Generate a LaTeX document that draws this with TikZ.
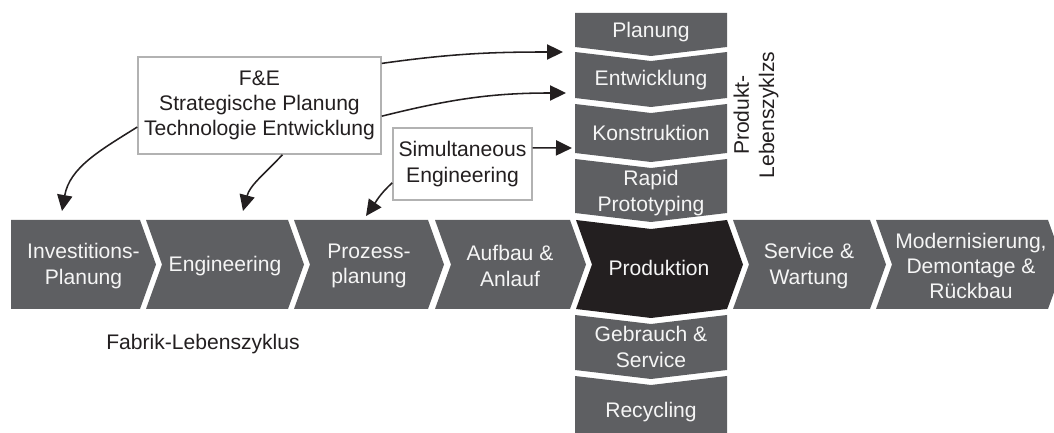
\documentclass[tikz,border=0pt]{standalone}
\usepackage{fontspec}
\setmainfont{Liberation Sans}
\usetikzlibrary{arrows.meta}
\definecolor{chevgray}{RGB}{94,95,98}
\definecolor{prodblack}{RGB}{35,31,32}
\definecolor{framegray}{RGB}{178,178,178}
\definecolor{inkdark}{RGB}{35,31,32}

\begin{document}
\begin{tikzpicture}[x=0.025cm,y=0.025cm,>={Triangle[length=4mm,width=3.8mm]},
  font=\fontsize{15}{18}\selectfont,
  chevtext/.style={text=white!96!black,align=center,inner sep=0pt},
  infobox/.style={draw=framegray,line width=1pt,fill=white,text=inkdark,align=center,inner sep=2pt},
  flow/.style={->,line width=1.1pt,draw=inkdark}]
\useasboundingbox (0,0) rectangle (1054,433);
\begin{scope}
\clip (0,0) rectangle (1054,433);
% Fabrik-Lebenszyklus (horizontal)
\fill[chevgray] (11,213) -- (140,213) -- (156,168.5) -- (140,124) -- (11,124) -- cycle;
\fill[chevgray] (146,213) -- (288,213) -- (304,168.5) -- (288,124) -- (146,124) -- (162,168.5) -- cycle;
\fill[chevgray] (294,213) -- (428,213) -- (444,168.5) -- (428,124) -- (294,124) -- (310,168.5) -- cycle;
\fill[chevgray] (435,213) -- (570,213) -- (586,168.5) -- (570,124) -- (435,124) -- (451,168.5) -- cycle;
\fill[prodblack] (576,213) -- (651,204) -- (727,213) -- (743,168.5) -- (727,124) -- (651,115) -- (576,124) -- (592,168.5) -- cycle;
\fill[chevgray] (733,213) -- (870,213) -- (886,168.5) -- (870,124) -- (733,124) -- (749,168.5) -- cycle;
\fill[chevgray] (876,213) -- (1048,213) -- (1064,168.5) -- (1048,124) -- (876,124) -- (892,168.5) -- cycle;
% Produkt-Lebenszyklus (vertical)
\fill[chevgray] (575,420) -- (727,420) -- (727,386) -- (651,377) -- (575,386) -- cycle;
\fill[chevgray] (575,381) -- (651,372) -- (727,381) -- (727,335) -- (651,326) -- (575,335) -- cycle;
\fill[chevgray] (575,329) -- (651,320) -- (727,329) -- (727,280) -- (651,271) -- (575,280) -- cycle;
\fill[chevgray] (575,274) -- (651,265) -- (727,274) -- (727,220) -- (651,211) -- (575,220) -- cycle;
\fill[chevgray] (575,118) -- (651,109) -- (727,118) -- (727,63) -- (651,54) -- (575,63) -- cycle;
\fill[chevgray] (575,57) -- (651,48) -- (727,57) -- (727,0) -- (575,0) -- cycle;
\end{scope}
\node[chevtext] (invest) at (83.5,167) {Investitions-\\Planung};
\node[chevtext] (engin) at (225,167) {Engineering};
\node[chevtext] (prozess) at (369,167) {Prozess-\\planung};
\node[chevtext] (aufbau) at (510,167) {Aufbau \&\\Anlauf};
\node[chevtext] (prod) at (659,165) {Produktion};
\node[chevtext] (service) at (809,167) {Service \&\\Wartung};
\node[chevtext] (modern) at (971,167) {Modernisierung,\\Demontage \&\\Rückbau};
\node[chevtext] (plan) at (651,401) {Planung};
\node[chevtext] (entw) at (651,353) {Entwicklung};
\node[chevtext] (konstr) at (651,300) {Konstruktion};
\node[chevtext] (rapid) at (651,240) {Rapid\\Prototyping};
\node[chevtext] (gebrauch) at (651,86) {Gebrauch \&\\Service};
\node[chevtext] (recyc) at (651,21) {Recycling};
\node[text=inkdark,align=center,rotate=90,inner sep=0pt] (produktlabel) at (756,318) {Produkt-\\Lebenszyklzs};
\node[text=inkdark,inner sep=0pt] (fabriklabel) at (203,89) {Fabrik-Lebenszyklus};
% Querschnittsaufgaben
\node[infobox,minimum width=6.075cm,minimum height=2.425cm] (fe) at (259.5,327.5) {F\&E\\Strategische Planung\\Technologie Entwicklung};
\node[infobox,minimum width=3.475cm,minimum height=1.8cm] (simeng) at (462.5,269) {Simultaneous\\Engineering};
\coordinate (tipplan) at (563,381);
\coordinate (tipentw) at (566,340);
\coordinate (tipkonstr) at (572,285);
\coordinate (tipinvest) at (62,222);
\coordinate (tipengin) at (243,222);
\coordinate (tipprozess) at (366,217);
\draw[flow] (fe.19) to[out=8,in=180] (tipplan);
\draw[flow] (fe.-5) to[out=14,in=180] (tipentw);
\draw[flow] (simeng.13) -- (tipkonstr);
\draw[flow] (fe.190) to[out=212,in=80] (tipinvest);
\draw[flow] (fe.295) to[out=227,in=75] (tipengin);
\draw[flow] (simeng.195) to[out=222,in=55] (tipprozess);
\end{tikzpicture}
\end{document}
